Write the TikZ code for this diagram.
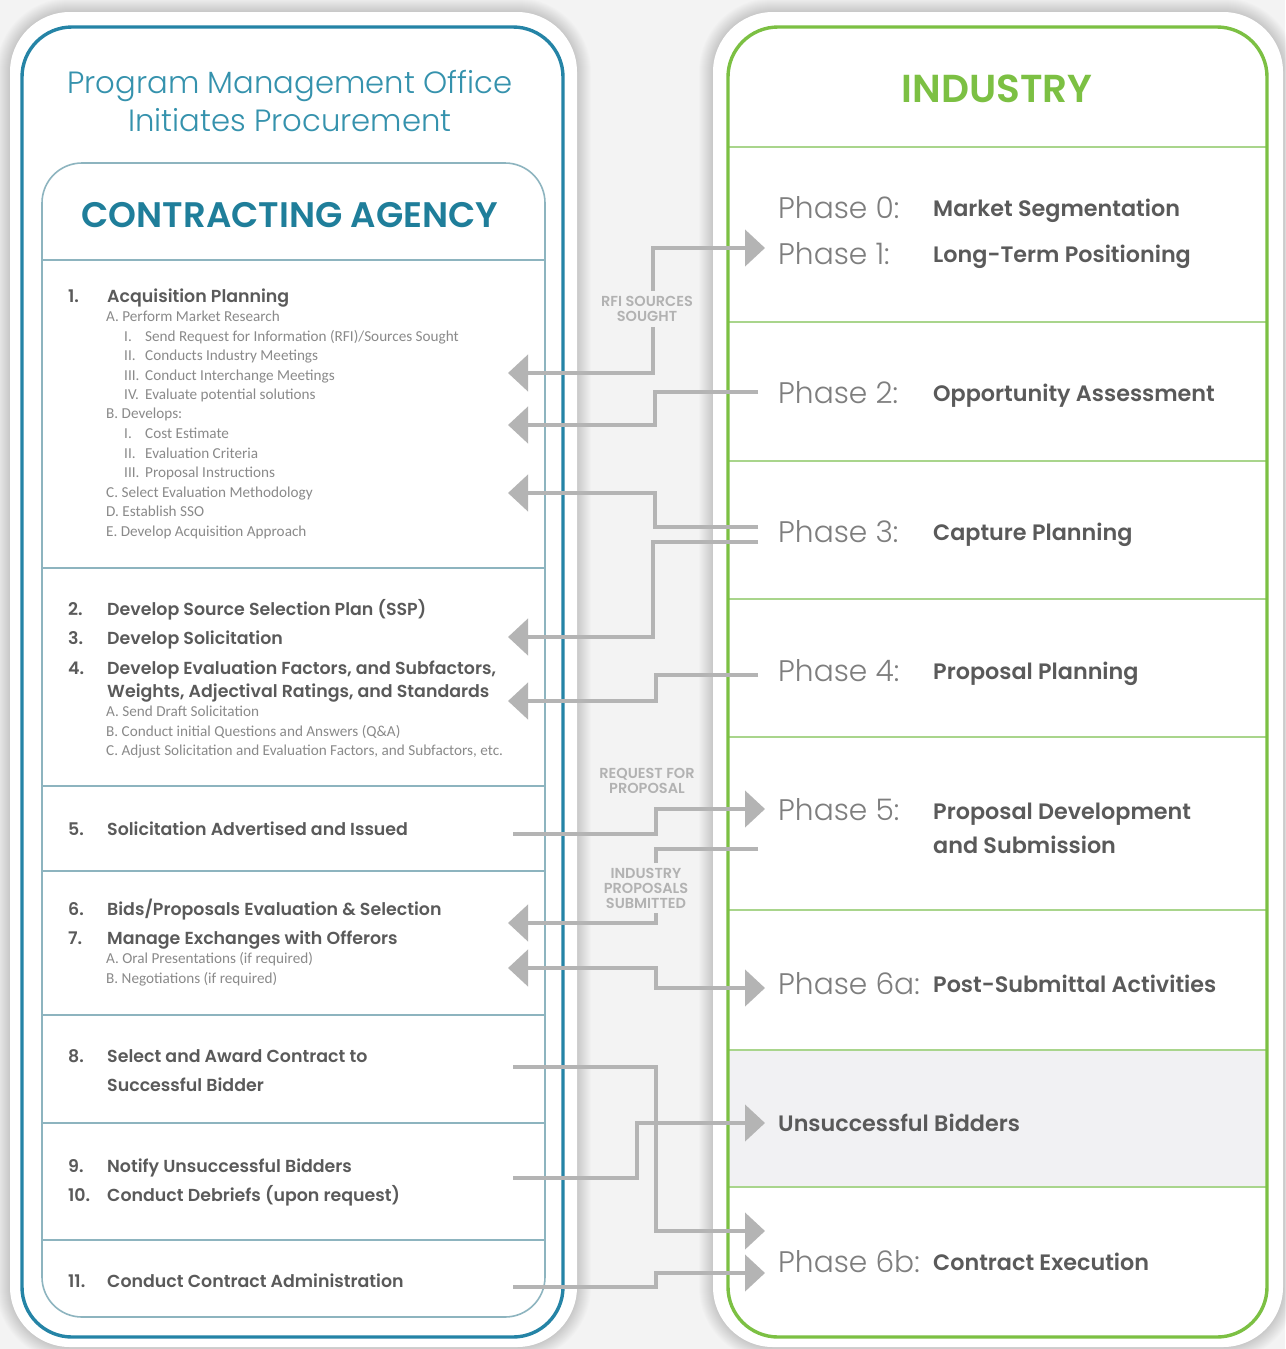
\documentclass[tikz,border=0pt]{standalone}
\usepackage{fontspec}
\setmainfont{Poppins}
\IfFontExistsTF{Poppins Light}{\newfontfamily\lightf{Poppins Light}}{\newfontfamily\lightf{Poppins}}
\IfFontExistsTF{Poppins SemiBold}{\newfontfamily\semif{Poppins SemiBold}}{\newcommand\semif{\bfseries}}
\newfontfamily\smallf{Carlito}
\usetikzlibrary{arrows.meta}

\definecolor{bgc}{HTML}{F3F3F3}
\definecolor{agencyblue}{HTML}{2584A6}
\definecolor{titleteal}{HTML}{3592AD}
\definecolor{headteal}{HTML}{1F7E9A}
\definecolor{innerrule}{HTML}{8DB4BF}
\definecolor{indgreen}{HTML}{7CC043}
\definecolor{greenrule}{HTML}{A9D58C}
\definecolor{itemc}{HTML}{5A5A5A}
\definecolor{subc}{HTML}{8A8A8A}
\definecolor{phasec}{HTML}{7E7E7E}
\definecolor{notec}{HTML}{B2B2B2}
\definecolor{connc}{HTML}{B4B4B4}
\definecolor{ubfill}{HTML}{F1F1F3}

\tikzset{
  txt/.style={anchor=west, inner sep=0pt, text depth=0pt},
  item/.style={txt, font=\semif\fontsize{17.4}{20}\selectfont, text=itemc, text height=12pt},
  sub/.style={txt, font=\smallf\fontsize{15.2}{17}\selectfont, text=subc, text height=9.5pt},
  phase/.style={txt, font=\lightf\fontsize{29.7}{34}\selectfont, text=phasec, text height=21pt},
  phtitle/.style={txt, font=\semif\fontsize{22.3}{26}\selectfont, text=itemc, text height=15.5pt},
  note/.style={align=center, inner sep=5pt, font=\semif\fontsize{14.5}{15}\selectfont, text=notec},
  conn/.style={draw=connc, line width=4.5pt},
  headR/.style={-{Triangle[length=20pt,width=36pt]}},
  headLR/.style={{Triangle[length=20pt,width=36pt]}-{Triangle[length=20pt,width=36pt]}},
  panelrule/.style={innerrule, line width=1.6pt},
  phaserule/.style={greenrule, line width=1.6pt},
}

\begin{document}
\begin{tikzpicture}[x=1pt,y=-1pt]
\useasboundingbox (0,0) rectangle (1285,1349);
\fill[bgc] (0,0) rectangle (1285,1349);

% soft shadows under both panels
\foreach \k in {1,...,14}{
  \fill[black,opacity=0.011,rounded corners=60+\k] (10-\k,12-\k) rectangle (577+\k,1347+\k);
  \fill[black,opacity=0.011,rounded corners=60+\k] (713-\k,12-\k) rectangle (1283+\k,1347+\k);
}
\fill[white,rounded corners=60] (10,12) rectangle (577,1347);
\fill[white,rounded corners=60] (713,12) rectangle (1283,1347);

% industry side: grey band and phase rules
\fill[ubfill] (729,1050) rectangle (1266,1187);
\foreach \y in {147,322,461,599,737,910,1050,1187}
  \draw[phaserule] (729,\y) -- (1266,\y);

% agency side: section rules
\foreach \y in {260,568,786,871,1015,1123,1240}
  \draw[panelrule] (42,\y) -- (545,\y);

% frames
\draw[agencyblue,line width=3.4pt,rounded corners=50] (22,27) rectangle (563,1337);
\draw[panelrule,rounded corners=40] (42,163) rectangle (545,1317);
\draw[indgreen,line width=3.4pt,rounded corners=50] (728,27) rectangle (1267,1337);

% headings
\node[font=\lightf\fontsize{30.7}{38}\selectfont, text=titleteal, align=center] (pmo) at (290,101)
  {Program Management Office\\Initiates Procurement};
\node[font=\semif\fontsize{35.5}{40}\selectfont, text=headteal] (agency) at (290,215) {CONTRACTING AGENCY};
\node[font=\semif\fontsize{39}{44}\selectfont, text=indgreen] (industry) at (997,89) {INDUSTRY};

% section 1
\node[item] (n1) at (68,296) {1.};
\node[item] (t1) at (107,296) {Acquisition Planning};
\node[sub] (s1a) at (106,317) {A.\ Perform Market Research};
\node[sub] (r1a1) at (124,337) {I.};
\node[sub] (s1a1) at (145,337) {Send Request for Information (RFI)/Sources Sought};
\node[sub] (r1a2) at (124,356) {II.};
\node[sub] (s1a2) at (145,356) {Conducts Industry Meetings};
\node[sub] (r1a3) at (124,376) {III.};
\node[sub] (s1a3) at (145,376) {Conduct Interchange Meetings};
\node[sub] (r1a4) at (124,395) {IV.};
\node[sub] (s1a4) at (145,395) {Evaluate potential solutions};
\node[sub] (s1b) at (106,414) {B.\ Develops:};
\node[sub] (r1b1) at (124,434) {I.};
\node[sub] (s1b1) at (145,434) {Cost Estimate};
\node[sub] (r1b2) at (124,454) {II.};
\node[sub] (s1b2) at (145,454) {Evaluation Criteria};
\node[sub] (r1b3) at (124,473) {III.};
\node[sub] (s1b3) at (145,473) {Proposal Instructions};
\node[sub] (s1c) at (106,493) {C.\ Select Evaluation Methodology};
\node[sub] (s1d) at (106,512) {D.\ Establish SSO};
\node[sub] (s1e) at (106,532) {E.\ Develop Acquisition Approach};

% sections 2-4
\node[item] (n2) at (68,609) {2.};
\node[item] (t2) at (107,609) {Develop Source Selection Plan (SSP)};
\node[item] (n3) at (68,638) {3.};
\node[item] (t3) at (107,638) {Develop Solicitation};
\node[item] (n4) at (68,668) {4.};
\node[item] (t4) at (107,668) {Develop Evaluation Factors, and Subfactors,};
\node[item] (t4b) at (107,691) {Weights, Adjectival Ratings, and Standards};
\node[sub] (s4a) at (106,712) {A.\ Send Draft Solicitation};
\node[sub] (s4b) at (106,732) {B.\ Conduct initial Questions and Answers (Q\&A)};
\node[sub] (s4c) at (106,751) {C.\ Adjust Solicitation and Evaluation Factors, and Subfactors, etc.};

% section 5
\node[item] (n5) at (68,829) {5.};
\node[item] (t5) at (107,829) {Solicitation Advertised and Issued};

% sections 6-7
\node[item] (n6) at (68,909) {6.};
\node[item] (t6) at (107,909) {Bids/Proposals Evaluation \& Selection};
\node[item] (n7) at (68,938) {7.};
\node[item] (t7) at (107,938) {Manage Exchanges with Offerors};
\node[sub] (s7a) at (106,959) {A.\ Oral Presentations (if required)};
\node[sub] (s7b) at (106,979) {B.\ Negotiations (if required)};

% section 8
\node[item] (n8) at (68,1056) {8.};
\node[item] (t8) at (107,1056) {Select and Award Contract to};
\node[item] (t8b) at (107,1085) {Successful Bidder};

% sections 9-10
\node[item] (n9) at (68,1166) {9.};
\node[item] (t9) at (107,1166) {Notify Unsuccessful Bidders};
\node[item] (n10) at (68,1195) {10.};
\node[item] (t10) at (107,1195) {Conduct Debriefs (upon request)};

% section 11
\node[item] (n11) at (68,1281) {11.};
\node[item] (t11) at (107,1281) {Conduct Contract Administration};

% industry phases
\node[phase] (ph0) at (778,208) {Phase 0:};
\node[phtitle] (pt0) at (933,209) {Market Segmentation};
\node[phase] (ph1) at (778,254) {Phase 1:};
\node[phtitle] (pt1) at (933,255) {Long-Term Positioning};
\node[phase] (ph2) at (778,393) {Phase 2:};
\node[phtitle] (pt2) at (933,394) {Opportunity Assessment};
\node[phase] (ph3) at (778,532) {Phase 3:};
\node[phtitle] (pt3) at (933,533) {Capture Planning};
\node[phase] (ph4) at (778,671) {Phase 4:};
\node[phtitle] (pt4) at (933,672) {Proposal Planning};
\node[phase] (ph5) at (778,810) {Phase 5:};
\node[phtitle] (pt5) at (933,812) {Proposal Development};
\node[phtitle] (pt5b) at (933,846) {and Submission};
\node[phase] (ph6a) at (778,984) {Phase 6a:};
\node[phtitle] (pt6a) at (933,985) {Post-Submittal Activities};
\node[phtitle] (ub) at (778,1124) {Unsuccessful Bidders};
\node[phase] (ph6b) at (778,1262) {Phase 6b:};
\node[phtitle] (pt6b) at (933,1263) {Contract Execution};

% notes between the columns
\node[note] (rfi) at (647,309) {RFI SOURCES\\SOUGHT};
\node[note] (rfp) at (647,781) {REQUEST FOR\\PROPOSAL};
\node[note] (ips) at (646,888) {INDUSTRY\\PROPOSALS\\SUBMITTED};

% connector ends
\coordinate (busA) at (653,0);
\coordinate (busG) at (656,0);
\coordinate (rfiL) at (508,373);
\coordinate (rfiR) at (765,248);
\coordinate (p2s) at (758,392);  \coordinate (p2e) at (508,425);
\coordinate (p3s) at (758,527);  \coordinate (p3e) at (508,493);
\coordinate (p3t) at (758,542);  \coordinate (p3f) at (508,637);
\coordinate (p4s) at (758,675);  \coordinate (p4e) at (508,701);
\coordinate (rfpS) at (513,834); \coordinate (rfpE) at (765,809);
\coordinate (subS) at (758,849); \coordinate (subE) at (508,923);
\coordinate (exL) at (508,968);  \coordinate (exR) at (765,988);
\coordinate (awS) at (513,1067); \coordinate (awE) at (765,1231);
\coordinate (noS) at (513,1178); \coordinate (noE) at (765,1123);
\coordinate (adS) at (513,1287); \coordinate (adE) at (765,1273);

% connectors
\draw[conn,headR] (rfi.north -| busA) |- (rfiR);
\draw[conn,headR] (rfi.south -| busA) |- (rfiL);
\draw[conn,headR] (p2s) -- ++(-103,0) |- (p2e);
\draw[conn,headR] (p3s) -- ++(-103,0) |- (p3e);
\draw[conn,headR] (p3t) -- ++(-105,0) |- (p3f);
\draw[conn,headR] (p4s) -- ++(-102,0) |- (p4e);
\draw[conn,headR] (rfpS) -- ++(143,0) |- (rfpE);
\draw[conn] (subS) -| (ips.north -| busG);
\draw[conn,headR] (ips.south -| busG) |- (subE);
\draw[conn,headLR] (exL) -- ++(148,0) |- (exR);
\draw[conn,headR] (awS) -- ++(143,0) |- (awE);
\draw[conn,headR] (noS) -- ++(124,0) |- (noE);
\draw[conn,headR] (adS) -- ++(143,0) |- (adE);
\end{tikzpicture}
\end{document}
